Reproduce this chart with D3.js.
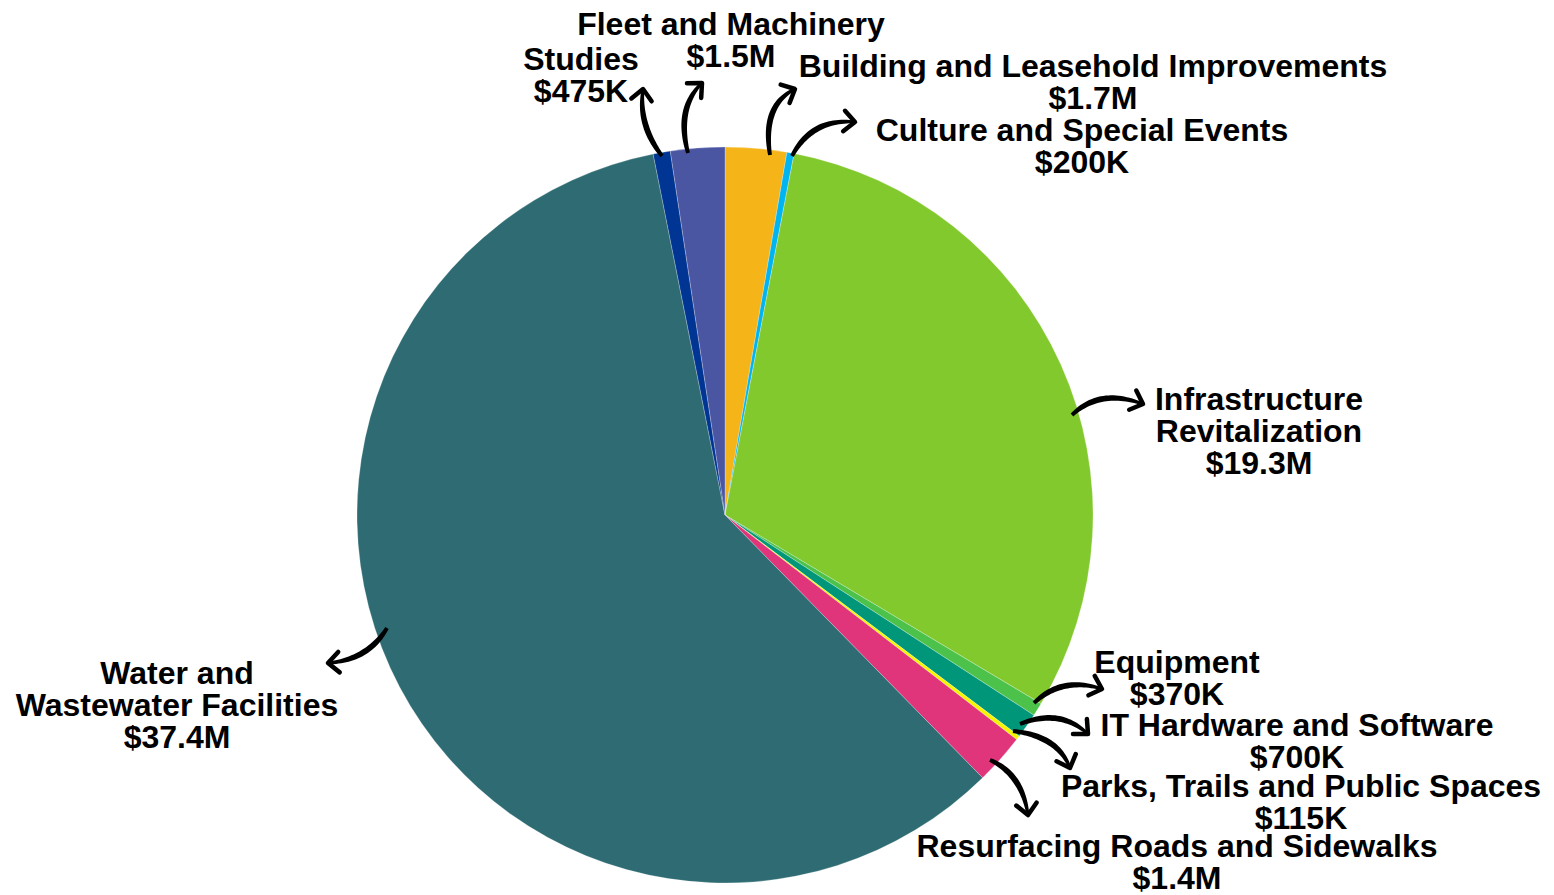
<!DOCTYPE html>
<html><head><meta charset="utf-8">
<script src="https://cdn.jsdelivr.net/npm/d3@7"></script>
<style>
html,body{margin:0;padding:0;background:#fff;}
svg{display:block;}
text{font-family:"Liberation Sans",Arial,sans-serif;font-weight:bold;font-size:32px;fill:#000;}
</style></head>
<body>
<svg id="chart" width="1554" height="895"></svg>
<script>
// ---- data ----
const categories = ["Building and Leasehold Improvements","Culture and Special Events","Infrastructure Revitalization","Equipment","IT Hardware and Software","Parks, Trails and Public Spaces","Resurfacing Roads and Sidewalks","Water and Wastewater Facilities","Studies","Fleet and Machinery"];
const values = [1.7, 0.2, 19.3, 0.37, 0.7, 0.115, 1.4, 37.4, 0.475, 1.5]; // $M
const valueLabels = ["$1.7M","$200K","$19.3M","$370K","$700K","$115K","$1.4M","$37.4M","$475K","$1.5M"];
const colors = ["#F5B417","#00B4F0","#82C92E","#4CC24A","#00967A","#F5F500","#E0357A","#2E6B72","#003594","#4B56A2"];

// ---- layout (label placement & arrows) ----
const labelLines = [
  ["Building and Leasehold Improvements"],
  ["Culture and Special Events"],
  ["Infrastructure","Revitalization"],
  ["Equipment"],
  ["IT Hardware and Software"],
  ["Parks, Trails and Public Spaces"],
  ["Resurfacing Roads and Sidewalks"],
  ["Water and","Wastewater Facilities"],
  ["Studies"],
  ["Fleet and Machinery"]
];
const labelPos = [[1093,77],[1082,141],[1259,410],[1177,673],[1297,736],[1301,797],[1177,857],[177,684],[581,70],[731,35]];
// arrow: [start x,y], [control x,y], [tip x,y]
const arrows = [
  [[770,155],[762,105],[795,89]],
  [[792,156],[812,118],[855,122]],
  [[1072,415],[1100,388],[1143,404]],
  [[1034,703],[1062,676],[1102,689]],
  [[1020,724],[1060,708],[1088,734]],
  [[1013,731],[1058,736],[1070,768]],
  [[990,760],[1022,774],[1028,815]],
  [[387,628],[368,660],[328,663]],
  [[662,156],[638,125],[643,89]],
  [[688,153],[676,108],[702,83]]
];

const svg = d3.select("#chart");
const cx = 725, cy = 515, R = 368;

const pie = d3.pie().sort(null).value(d => d)(values);
const arc = d3.arc().innerRadius(0).outerRadius(R);
const g = svg.append("g").attr("transform", `translate(${cx},${cy})`);
g.selectAll("path").data(pie).join("path")
  .attr("d", arc)
  .attr("fill", (d,i) => colors[i])
  .attr("stroke", "rgba(255,255,255,0.35)")
  .attr("stroke-width", 0.7);

// tapered hand-drawn arrows
function q(p0,p1,p2,t){const a=(1-t)*(1-t),b=2*(1-t)*t,c=t*t;return [a*p0[0]+b*p1[0]+c*p2[0],a*p0[1]+b*p1[1]+c*p2[1]];}
function qd(p0,p1,p2,t){return [2*(1-t)*(p1[0]-p0[0])+2*t*(p2[0]-p1[0]),2*(1-t)*(p1[1]-p0[1])+2*t*(p2[1]-p1[1])];}
const ag = svg.append("g");
arrows.forEach(([p0,p1,p2]) => {
  const N = 30, left = [], right = [];
  for (let k=0;k<=N;k++){
    const t=k/N, p=q(p0,p1,p2,t), d=qd(p0,p1,p2,t);
    const L=Math.hypot(d[0],d[1]); const nx=-d[1]/L, ny=d[0]/L;
    const w = (1.2 + 3.6*Math.sin(Math.PI*Math.min(1,t*0.8+0.15)))/2 + 0.5;
    left.push([p[0]+nx*w,p[1]+ny*w]); right.push([p[0]-nx*w,p[1]-ny*w]);
  }
  const pts = left.concat(right.reverse());
  ag.append("path").attr("d", d3.line()(pts)+"Z").attr("fill","#000");
  // arrowhead chevron
  const d = qd(p0,p1,p2,1); const ang = Math.atan2(d[1],d[0]);
  const hl = 15, spread = 0.75;
  const a1=[p2[0]-hl*Math.cos(ang-spread), p2[1]-hl*Math.sin(ang-spread)];
  const a2=[p2[0]-hl*Math.cos(ang+spread), p2[1]-hl*Math.sin(ang+spread)];
  ag.append("path").attr("d", `M${a1[0]},${a1[1]}L${p2[0]},${p2[1]}L${a2[0]},${a2[1]}`)
    .attr("fill","none").attr("stroke","#000").attr("stroke-width",4.5)
    .attr("stroke-linecap","round").attr("stroke-linejoin","round");
});

// labels
const lg = svg.append("g");
categories.forEach((c,i) => {
  const lines = labelLines[i].concat([valueLabels[i]]);
  const t = lg.append("text").attr("text-anchor","middle")
    .attr("x", labelPos[i][0]).attr("y", labelPos[i][1]);
  lines.forEach((ln,j) => {
    t.append("tspan").attr("x", labelPos[i][0]).attr("dy", j===0?0:32).text(ln);
  });
});
</script>
</body></html>
